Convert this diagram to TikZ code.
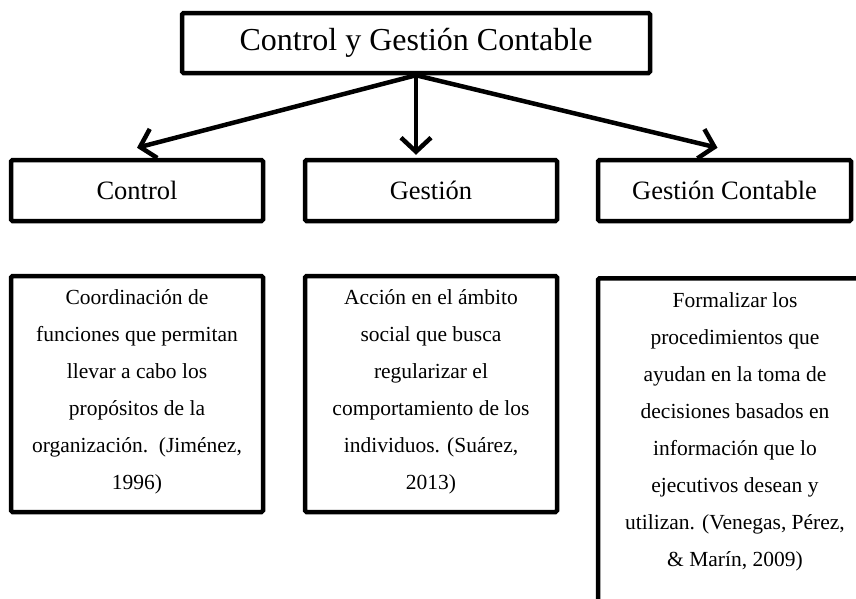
\documentclass[tikz,border=0pt]{standalone}
\usepackage{fontspec}
\setmainfont{Liberation Serif}
\usetikzlibrary{arrows.meta}
\begin{document}
\begin{tikzpicture}[x=1pt,y=-1pt,
  box/.style={draw, line width=4.5pt, rounded corners=1.5pt, inner sep=0pt},
  arr/.style={line width=4.5pt, -{Straight Barb[length=14pt,width=30pt]}},
  midtext/.style={font=\fontsize{26.5}{32}\selectfont},
  lowtext/.style={align=center, font=\fontsize{21.5}{37}\selectfont, inner sep=0pt, anchor=north}
]
\useasboundingbox (0,0) rectangle (856,598);
\clip (0,0) rectangle (856,598);
\fill[white] (0,0) rectangle (856,598);

\node[box, minimum width=468pt, minimum height=60pt, font=\fontsize{32}{38}\selectfont] (top) at (416,43) {Control y Gestión Contable};

\node[box, midtext, minimum width=252pt, minimum height=61pt] (c1) at (137,190.5) {Control};
\node[box, midtext, minimum width=252pt, minimum height=61pt] (c2) at (431,190.5) {Gestión};
\node[box, midtext, minimum width=253pt, minimum height=61pt] (c3) at (724.5,190.5) {Gestión Contable};

\draw[arr] (top.south) -- ([yshift=10pt]c1.north);
\draw[arr] (top.south) -- ([yshift=3pt]top.south |- c2.north);
\draw[arr] (top.south) -- ([yshift=10pt,xshift=-7pt]c3.north);

\node[box, minimum width=252pt, minimum height=236pt] (d1) at (137,394) {};
\node[box, minimum width=252pt, minimum height=236pt] (d2) at (431,394) {};
\node[box, minimum width=274pt, minimum height=400pt, anchor=north] (d3) at (735,276) {};

\node[lowtext] (t1) at ([yshift=-16pt]d1.north) {Coordinación de\\funciones que permitan\\llevar a cabo los\\propósitos de la\\organización.\ \ (Jiménez,\\1996)};
\node[lowtext] (t2) at ([yshift=-16pt]d2.north) {Acción en el ámbito\\social que busca\\regularizar el\\comportamiento de los\\individuos. (Suárez,\\2013)};
\node[lowtext] (t3) at ([yshift=-16pt]d3.north) {Formalizar los\\procedimientos que\\ayudan en la toma de\\decisiones basados en\\información que lo\\ejecutivos desean y\\utilizan. (Venegas, Pérez,\\\& Marín, 2009)};
\end{tikzpicture}
\end{document}
